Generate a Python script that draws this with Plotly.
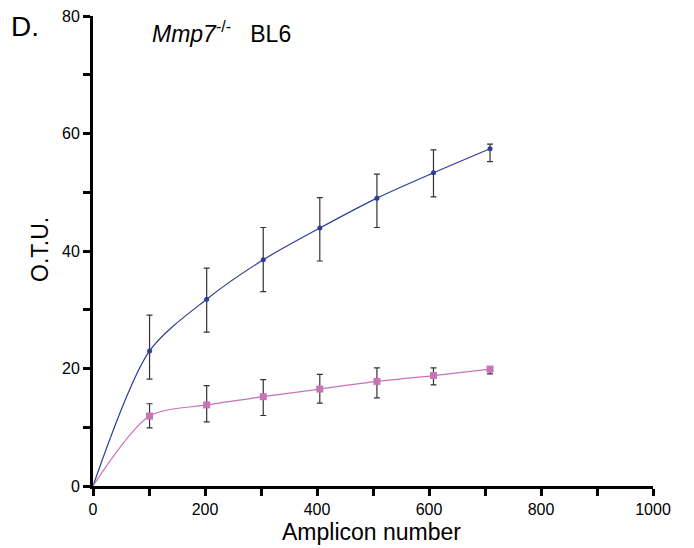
import plotly.graph_objects as go

amplicons = [101, 203, 304, 405, 507, 608, 709]
mmp7_otu = [23.0, 31.8, 38.5, 43.9, 49.0, 53.3, 57.4]
mmp7_err_plus = [6.1, 5.3, 5.5, 5.2, 4.1, 3.9, 0.8]
mmp7_err_minus = [4.8, 5.6, 5.4, 5.6, 5.0, 4.1, 2.2]
bl6_otu = [11.9, 13.8, 15.2, 16.5, 17.8, 18.8, 19.9]
bl6_err_plus = [2.1, 3.3, 2.9, 2.5, 2.3, 1.3, 0.4]
bl6_err_minus = [2.0, 2.9, 3.2, 2.4, 2.8, 1.6, 0.8]
x_ticks = [0, 200, 400, 600, 800, 1000]
y_ticks = [0, 20, 40, 60, 80]

blue = "#2e3c9c"
pink = "#c872b8"
errc = "#333333"
font = "Liberation Sans, Arial, sans-serif"

fig = go.Figure()
# smooth curves from origin
fig.add_trace(go.Scatter(x=[0] + amplicons, y=[0] + mmp7_otu, mode="lines",
                         line=dict(color=blue, width=1.2, shape="spline", smoothing=0.8),
                         showlegend=False, hoverinfo="skip", cliponaxis=False))
fig.add_trace(go.Scatter(x=[0] + amplicons, y=[0] + bl6_otu, mode="lines",
                         line=dict(color=pink, width=1.2, shape="spline", smoothing=0.8),
                         showlegend=False, hoverinfo="skip", cliponaxis=False))
fig.add_trace(go.Scatter(x=amplicons, y=mmp7_otu, mode="markers",
                         marker=dict(color=blue, size=5, symbol="circle"),
                         error_y=dict(type="data", array=mmp7_err_plus, arrayminus=mmp7_err_minus,
                                      color=errc, thickness=1.2, width=3),
                         showlegend=False, cliponaxis=False))
fig.add_trace(go.Scatter(x=amplicons, y=bl6_otu, mode="markers",
                         marker=dict(color=pink, size=7, symbol="square"),
                         error_y=dict(type="data", array=bl6_err_plus, arrayminus=bl6_err_minus,
                                      color=errc, thickness=1.2, width=3),
                         showlegend=False, cliponaxis=False))

axis_common = dict(showline=True, linecolor="black", linewidth=3, ticks="outside",
                   ticklen=7, tickwidth=2.5, tickcolor="black", showgrid=False, zeroline=False,
                   ticklabeloverflow="allow", automargin=False,
                   tickfont=dict(family=font, size=16, color="black"))

fig.update_xaxes(range=[0, 1000], tickvals=x_ticks, ticktext=[str(v) for v in x_ticks],
                 minor=dict(dtick=100, tick0=0, ticks="outside", ticklen=7, tickwidth=2.5, tickcolor="black"),
                 **axis_common)
fig.update_yaxes(range=[0, 80], tickvals=y_ticks, ticktext=[str(v) for v in y_ticks],
                 minor=dict(dtick=10, tick0=0, ticks="outside", ticklen=7, tickwidth=2.5, tickcolor="black"),
                 **axis_common)

# axis titles
fig.add_annotation(text="Amplicon number", xref="paper", yref="paper", x=0.498, y=-0.098,
                   xanchor="center", yanchor="middle", showarrow=False,
                   font=dict(family=font, size=23, color="black"))
fig.add_annotation(text="O.T.U.", xref="paper", yref="paper", x=-0.095, y=0.504,
                   xanchor="center", yanchor="middle", showarrow=False, textangle=-90,
                   font=dict(family=font, size=23, color="black"))

fig.add_annotation(text="D.", xref="paper", yref="paper", x=-0.122, y=0.977, xanchor="center",
                   yanchor="middle", showarrow=False, font=dict(family=font, size=28, color="black"))
fig.add_annotation(text="<i>Mmp7</i><sup>-/-</sup>   BL6", xref="paper", yref="paper",
                   x=0.102, y=0.966, xanchor="left", yanchor="middle", showarrow=False,
                   font=dict(family=font, size=23, color="black"))

# page body adds an 8px margin; compensate so the plot lands at the reference position
fig.update_layout(width=694, height=548, margin=dict(l=85, r=49, t=8, b=70),
                  plot_bgcolor="white", paper_bgcolor="white",
                  font=dict(family=font, color="black"))

fig.write_html("out.html")
